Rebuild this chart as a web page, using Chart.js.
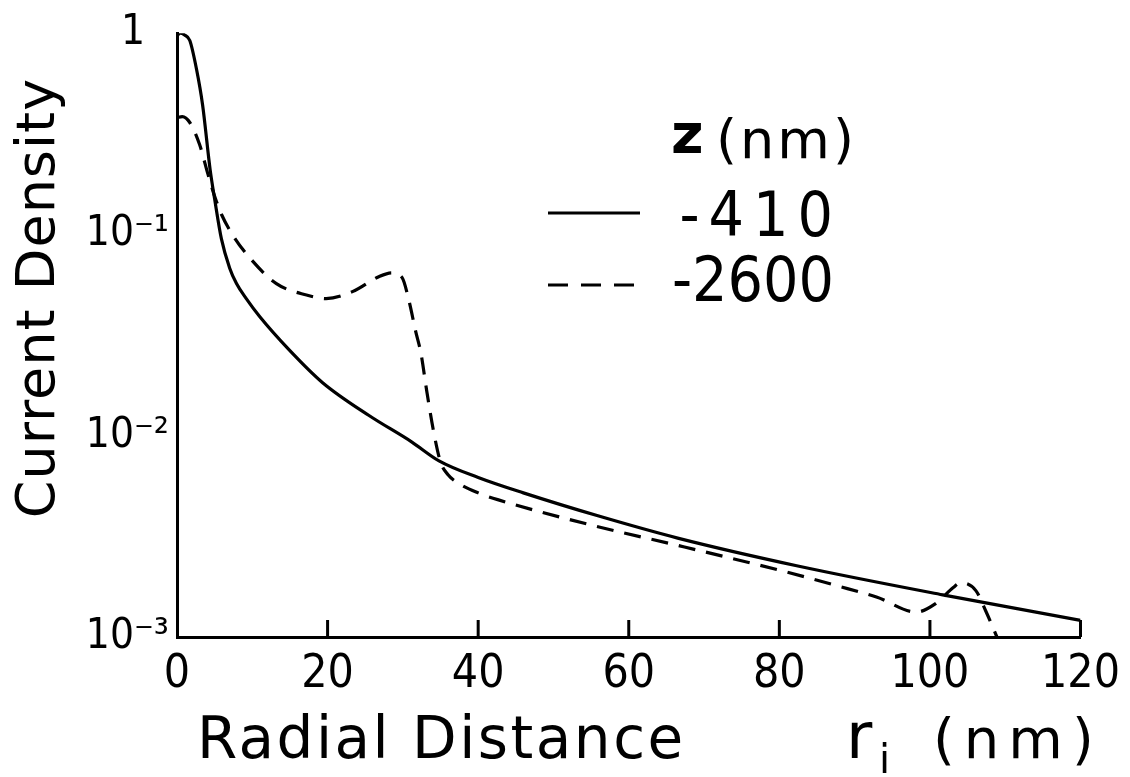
<!DOCTYPE html>
<html>
<head>
<meta charset="utf-8">
<script src="https://cdn.jsdelivr.net/npm/chart.js@4/dist/chart.umd.min.js"></script>
<style>
  html, body { margin: 0; padding: 0; background: #fff; }
  #wrap { width: 1130px; height: 777px; position: relative; }
</style>
</head>
<body>
<div id="wrap"><canvas id="currentChart"></canvas></div>
<script>
// 軸刻度
const xTicks = [0, 20, 40, 60, 80, 100, 120];
const yTicks = [0.001, 0.01, 0.1, 1];
const yTickLabels = ['10⁻³', '10⁻²', '10⁻¹', '1  '];

// z = -410 nm (實線)
const rSolid = [0, 0.4, 1.0, 1.7, 2.6, 3.4, 4.4, 5.0, 5.9, 7.0, 7.9, 9.2, 11, 14.9, 19.3, 25.5, 31.2, 34.8, 40, 46, 55.9, 66.5, 82.3, 101.7, 120];
const jSolid = [0.97, 1.0, 0.98, 0.92, 0.66, 0.44, 0.21, 0.15, 0.095, 0.068, 0.057, 0.048, 0.039, 0.0267, 0.0184, 0.0126, 0.0093, 0.0075, 0.0062, 0.0052, 0.0040, 0.0031, 0.00226, 0.00162, 0.00121];

// z = -2600 nm (虛線)
const rDashed = [0, 0.7, 1.7, 3.0, 4.1, 5.0, 5.9, 7.5, 9.6, 13.2, 17.2, 19.8, 23.3, 26.8, 28.5, 29.9, 30.8, 31.7, 32.4, 33.2, 34.1, 35, 36, 37.4, 40, 42.7, 55, 67.4, 80.6, 87.6, 92.9, 98.2, 100.8, 103.1, 104.1, 106.1, 107.4, 109];
const jDashed = [0.38, 0.385, 0.36, 0.28, 0.20, 0.155, 0.126, 0.098, 0.077, 0.057, 0.050, 0.048, 0.052, 0.0617, 0.0645, 0.061, 0.047, 0.033, 0.0257, 0.0164, 0.0104, 0.0074, 0.0064, 0.0058, 0.0052, 0.0048, 0.0036, 0.0028, 0.00212, 0.0018, 0.00158, 0.00133, 0.00147, 0.00176, 0.00186, 0.0017, 0.00135, 0.00098];

const seriesNames = ['-410', '-2600'];
const legendTitle = 'z (nm)';
const xTitle = 'Radial Distance';
const yTitle = 'Current Density';

const numFont = '"DejaVu Sans Condensed", "DejaVu Sans", sans-serif';
const txtFont = '"DejaVu Sans", sans-serif';

// 自訂繪製：內向刻度、圖例、軸標題
const extras = {
    id: 'extras',
    afterDraw(chart) {
        const ctx = chart.ctx;
        const xs = chart.scales.x;
        const area = chart.chartArea;
        ctx.save();
        ctx.strokeStyle = '#000';
        ctx.fillStyle = '#000';
        ctx.lineWidth = 3;

        // x 軸內向刻度
        xTicks.slice(1).forEach(v => {
            const px = xs.getPixelForValue(v);
            ctx.beginPath();
            ctx.moveTo(px, area.bottom);
            ctx.lineTo(px, area.bottom - 17);
            ctx.stroke();
        });

        // 圖例
        ctx.textAlign = 'left';
        ctx.textBaseline = 'alphabetic';
        ctx.font = 'bold 56px ' + txtFont;
        ctx.fillText(legendTitle.charAt(0), 671, 153);
        ctx.font = '54px ' + txtFont;
        ctx.letterSpacing = '3px';
        ctx.fillText(legendTitle.slice(1).trim(), 716, 158);

        chart.data.datasets.forEach((ds, i) => {
            const y = i === 0 ? 213 : 285;
            ctx.lineWidth = 3;
            ctx.setLineDash(ds.borderDash ? [20, 13] : []);
            ctx.beginPath();
            ctx.moveTo(548, y);
            ctx.lineTo(640, y);
            ctx.stroke();
            ctx.setLineDash([]);
            ctx.font = '62px ' + numFont;
            ctx.textAlign = 'right';
            ctx.letterSpacing = i === 0 ? '9px' : '0px';
            ctx.fillText(seriesNames[i], i === 0 ? 842 : 834, i === 0 ? 236 : 301);
        });

        // y 軸標題
        ctx.save();
        ctx.translate(54, 298);
        ctx.rotate(-Math.PI / 2);
        ctx.font = '54px ' + txtFont;
        ctx.letterSpacing = '1px';
        ctx.textAlign = 'center';
        ctx.fillText(yTitle, 0, 0);
        ctx.restore();

        // x 軸標題
        ctx.textAlign = 'left';
        ctx.font = '58px ' + txtFont;
        ctx.letterSpacing = '2.5px';
        ctx.fillText(xTitle, 197, 758);
        ctx.letterSpacing = '0px';
        ctx.font = '64px ' + txtFont;
        ctx.fillText('r', 846, 758);
        ctx.font = '40px ' + txtFont;
        ctx.fillText('i', 879, 773);
        ctx.font = '56px ' + txtFont;
        ctx.letterSpacing = '9px';
        ctx.fillText('(nm)', 933, 758);
        ctx.restore();
    }
};

const ctx = document.getElementById('currentChart').getContext('2d');

new Chart(ctx, {
    type: 'line',
    data: {
        datasets: [
            {
                label: seriesNames[0],
                data: rSolid.map((r, i) => ({ x: r, y: jSolid[i] })),
                borderColor: '#000',
                borderWidth: 3.2,
                pointRadius: 0,
                cubicInterpolationMode: 'monotone',
                fill: false
            },
            {
                label: seriesNames[1],
                data: rDashed.map((r, i) => ({ x: r, y: jDashed[i] })),
                borderColor: '#000',
                borderWidth: 3.2,
                borderDash: [17, 11],
                pointRadius: 0,
                cubicInterpolationMode: 'monotone',
                fill: false
            }
        ]
    },
    options: {
        responsive: true,
        maintainAspectRatio: false,
        animation: false,
        layout: { padding: { left: 0, right: 45, top: 27, bottom: 0 } },
        plugins: {
            legend: { display: false },
            tooltip: { enabled: false }
        },
        scales: {
            x: {
                type: 'linear',
                min: 0,
                max: 120,
                grid: { display: false, drawTicks: false },
                border: { display: true, color: '#000', width: 3 },
                ticks: {
                    stepSize: 20,
                    color: '#000',
                    padding: 10,
                    maxRotation: 0,
                    font: { family: numFont, size: 46 }
                },
                afterFit(scale) { scale.height = 140; }
            },
            y: {
                type: 'logarithmic',
                min: 0.001,
                max: 1,
                grid: { display: false, drawTicks: false },
                border: { display: true, color: '#000', width: 3 },
                afterBuildTicks(scale) {
                    scale.ticks = yTicks.map(v => ({ value: v }));
                },
                ticks: {
                    color: '#000',
                    padding: 8,
                    font: { family: numFont, size: 42 },
                    callback: (v) => yTickLabels[yTicks.indexOf(v)]
                },
                afterFit(scale) { scale.width = 177; }
            }
        }
    },
    plugins: [extras]
});
</script>
</body>
</html>
